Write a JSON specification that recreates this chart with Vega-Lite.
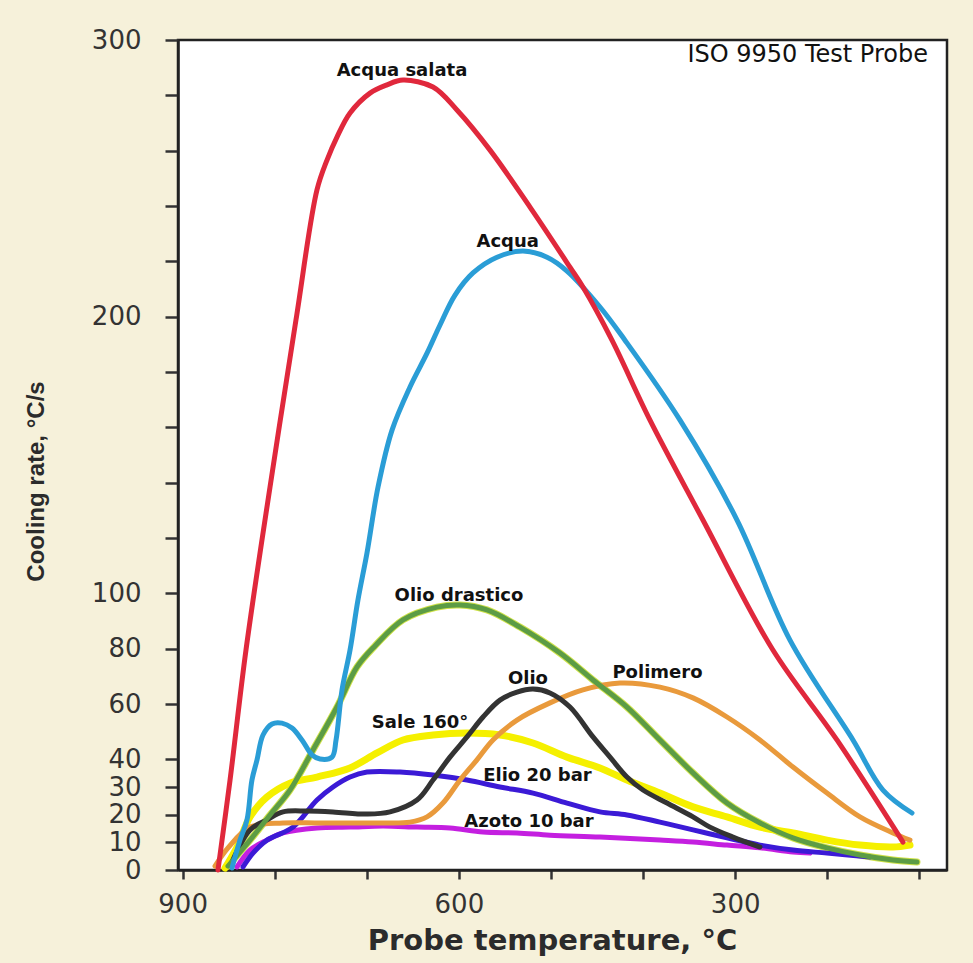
{
  "$schema": "https://vega.github.io/schema/vega-lite/v6.json",
  "width": 769,
  "height": 830,
  "autosize": {"type": "none"},
  "padding": {"left": 178, "top": 40, "right": 26, "bottom": 93},
  "background": "#f6f1da",
  "config": {"view": {"fill": "white", "stroke": "#222222", "strokeWidth": 2.5}},
  "datasets": {
    "curves": [
      {"s": "Azoto 10 bar", "t": 840.9, "v": 1.1}, {"s": "Azoto 10 bar", "t": 826.8, "v": 7.2}, {"s": "Azoto 10 bar", "t": 808.4, "v": 10.8}, {"s": "Azoto 10 bar", "t": 791, "v": 13.4}, {"s": "Azoto 10 bar", "t": 754.1, "v": 15.2}, {"s": "Azoto 10 bar", "t": 718.2, "v": 15.5}, {"s": "Azoto 10 bar", "t": 682.4, "v": 15.9}, {"s": "Azoto 10 bar", "t": 645.5, "v": 15.5}, {"s": "Azoto 10 bar", "t": 609.7, "v": 15.2}, {"s": "Azoto 10 bar", "t": 573.8, "v": 13.7}, {"s": "Azoto 10 bar", "t": 536.9, "v": 13.4}, {"s": "Azoto 10 bar", "t": 501.1, "v": 12.6}, {"s": "Azoto 10 bar", "t": 446.8, "v": 11.9}, {"s": "Azoto 10 bar", "t": 381.7, "v": 10.8}, {"s": "Azoto 10 bar", "t": 345.8, "v": 10.1}, {"s": "Azoto 10 bar", "t": 308.9, "v": 9}, {"s": "Azoto 10 bar", "t": 273.1, "v": 8}, {"s": "Azoto 10 bar", "t": 237.2, "v": 6.5}, {"s": "Azoto 10 bar", "t": 218.8, "v": 6.1},
      {"s": "Elio 20 bar", "t": 834.4, "v": 1.1}, {"s": "Elio 20 bar", "t": 823.6, "v": 6.1}, {"s": "Elio 20 bar", "t": 808.4, "v": 10.8}, {"s": "Elio 20 bar", "t": 780.1, "v": 15.5}, {"s": "Elio 20 bar", "t": 754.1, "v": 25.3}, {"s": "Elio 20 bar", "t": 736.7, "v": 30}, {"s": "Elio 20 bar", "t": 718.2, "v": 33.6}, {"s": "Elio 20 bar", "t": 699.8, "v": 35.4}, {"s": "Elio 20 bar", "t": 663.9, "v": 35.4}, {"s": "Elio 20 bar", "t": 628.1, "v": 34.3}, {"s": "Elio 20 bar", "t": 591.2, "v": 32.5}, {"s": "Elio 20 bar", "t": 555.4, "v": 30}, {"s": "Elio 20 bar", "t": 519.5, "v": 27.8}, {"s": "Elio 20 bar", "t": 482.6, "v": 24.2}, {"s": "Elio 20 bar", "t": 446.8, "v": 21}, {"s": "Elio 20 bar", "t": 417.5, "v": 19.9}, {"s": "Elio 20 bar", "t": 381.7, "v": 17.3}, {"s": "Elio 20 bar", "t": 345.8, "v": 14.5}, {"s": "Elio 20 bar", "t": 308.9, "v": 11.6}, {"s": "Elio 20 bar", "t": 273.1, "v": 9}, {"s": "Elio 20 bar", "t": 237.2, "v": 7.2}, {"s": "Elio 20 bar", "t": 200.3, "v": 6.1}, {"s": "Elio 20 bar", "t": 153.6, "v": 4.7},
      {"s": "Sale 160°", "t": 854, "v": 0.7}, {"s": "Sale 160°", "t": 840.9, "v": 8.3}, {"s": "Sale 160°", "t": 826.8, "v": 19.2}, {"s": "Sale 160°", "t": 808.4, "v": 26.4}, {"s": "Sale 160°", "t": 783.4, "v": 31.4}, {"s": "Sale 160°", "t": 754.1, "v": 33.6}, {"s": "Sale 160°", "t": 718.2, "v": 36.9}, {"s": "Sale 160°", "t": 688.9, "v": 42.3}, {"s": "Sale 160°", "t": 660.7, "v": 47}, {"s": "Sale 160°", "t": 628.1, "v": 48.8}, {"s": "Sale 160°", "t": 591.2, "v": 49.5}, {"s": "Sale 160°", "t": 555.4, "v": 48.8}, {"s": "Sale 160°", "t": 519.5, "v": 45.9}, {"s": "Sale 160°", "t": 482.6, "v": 40.8}, {"s": "Sale 160°", "t": 446.8, "v": 36.9}, {"s": "Sale 160°", "t": 417.5, "v": 32.5}, {"s": "Sale 160°", "t": 381.7, "v": 27.8}, {"s": "Sale 160°", "t": 345.8, "v": 22.8}, {"s": "Sale 160°", "t": 308.9, "v": 19.2}, {"s": "Sale 160°", "t": 273.1, "v": 15.5}, {"s": "Sale 160°", "t": 237.2, "v": 13.4}, {"s": "Sale 160°", "t": 200.3, "v": 10.8}, {"s": "Sale 160°", "t": 164.5, "v": 9}, {"s": "Sale 160°", "t": 128.7, "v": 8.3}, {"s": "Sale 160°", "t": 110.2, "v": 9},
      {"s": "Polimero", "t": 864.8, "v": 1.4}, {"s": "Polimero", "t": 850.7, "v": 8}, {"s": "Polimero", "t": 826.8, "v": 15.5}, {"s": "Polimero", "t": 791, "v": 17}, {"s": "Polimero", "t": 754.1, "v": 17}, {"s": "Polimero", "t": 718.2, "v": 17}, {"s": "Polimero", "t": 682.4, "v": 17}, {"s": "Polimero", "t": 653.1, "v": 17.3}, {"s": "Polimero", "t": 634.6, "v": 19.2}, {"s": "Polimero", "t": 617.3, "v": 24.2}, {"s": "Polimero", "t": 598.8, "v": 32.5}, {"s": "Polimero", "t": 580.4, "v": 39.8}, {"s": "Polimero", "t": 563, "v": 47}, {"s": "Polimero", "t": 536.9, "v": 54.2}, {"s": "Polimero", "t": 501.1, "v": 60.4}, {"s": "Polimero", "t": 465.3, "v": 65.1}, {"s": "Polimero", "t": 425.1, "v": 67.6}, {"s": "Polimero", "t": 381.7, "v": 66.1}, {"s": "Polimero", "t": 345.8, "v": 62.2}, {"s": "Polimero", "t": 308.9, "v": 55.3}, {"s": "Polimero", "t": 273.1, "v": 47}, {"s": "Polimero", "t": 237.2, "v": 37.2}, {"s": "Polimero", "t": 200.3, "v": 27.8}, {"s": "Polimero", "t": 164.5, "v": 19.2}, {"s": "Polimero", "t": 128.7, "v": 13.4}, {"s": "Polimero", "t": 110.2, "v": 10.8},
      {"s": "Olio", "t": 846.4, "v": 2.9}, {"s": "Olio", "t": 826.8, "v": 14.5}, {"s": "Olio", "t": 808.4, "v": 18.1}, {"s": "Olio", "t": 791, "v": 21}, {"s": "Olio", "t": 765, "v": 21.3}, {"s": "Olio", "t": 736.7, "v": 21}, {"s": "Olio", "t": 699.8, "v": 20.2}, {"s": "Olio", "t": 674.8, "v": 21}, {"s": "Olio", "t": 645.5, "v": 25.3}, {"s": "Olio", "t": 628.1, "v": 32.5}, {"s": "Olio", "t": 609.7, "v": 40.8}, {"s": "Olio", "t": 591.2, "v": 48.1}, {"s": "Olio", "t": 573.8, "v": 55.3}, {"s": "Olio", "t": 555.4, "v": 61.4}, {"s": "Olio", "t": 536.9, "v": 64.3}, {"s": "Olio", "t": 519.5, "v": 65.4}, {"s": "Olio", "t": 501.1, "v": 64}, {"s": "Olio", "t": 479.4, "v": 58.9}, {"s": "Olio", "t": 454.4, "v": 48.1}, {"s": "Olio", "t": 435.9, "v": 40.8}, {"s": "Olio", "t": 417.5, "v": 33.6}, {"s": "Olio", "t": 400.1, "v": 28.9}, {"s": "Olio", "t": 374, "v": 24.2}, {"s": "Olio", "t": 345.8, "v": 19.2}, {"s": "Olio", "t": 327.4, "v": 15.5}, {"s": "Olio", "t": 302.4, "v": 11.9}, {"s": "Olio", "t": 273.1, "v": 8.3},
      {"s": "Olio drastico", "t": 850.7, "v": 1.4}, {"s": "Olio drastico", "t": 826.8, "v": 10.8}, {"s": "Olio drastico", "t": 805.1, "v": 19.9}, {"s": "Olio drastico", "t": 783.4, "v": 28.9}, {"s": "Olio drastico", "t": 758.4, "v": 43.4}, {"s": "Olio drastico", "t": 732.4, "v": 58.9}, {"s": "Olio drastico", "t": 710.6, "v": 73.4}, {"s": "Olio drastico", "t": 691.1, "v": 81}, {"s": "Olio drastico", "t": 660.7, "v": 90.4}, {"s": "Olio drastico", "t": 623.8, "v": 95}, {"s": "Olio drastico", "t": 598.8, "v": 95.8}, {"s": "Olio drastico", "t": 569.5, "v": 94}, {"s": "Olio drastico", "t": 533.7, "v": 87.8}, {"s": "Olio drastico", "t": 490.2, "v": 78.4}, {"s": "Olio drastico", "t": 454.4, "v": 68.7}, {"s": "Olio drastico", "t": 417.5, "v": 58.9}, {"s": "Olio drastico", "t": 381.7, "v": 47}, {"s": "Olio drastico", "t": 345.8, "v": 35.1}, {"s": "Olio drastico", "t": 308.9, "v": 24.2}, {"s": "Olio drastico", "t": 273.1, "v": 17}, {"s": "Olio drastico", "t": 237.2, "v": 11.6}, {"s": "Olio drastico", "t": 200.3, "v": 8}, {"s": "Olio drastico", "t": 164.5, "v": 5.4}, {"s": "Olio drastico", "t": 128.7, "v": 3.6}, {"s": "Olio drastico", "t": 102.6, "v": 2.9},
      {"s": "Acqua", "t": 846.4, "v": 0.7}, {"s": "Acqua", "t": 837.7, "v": 10.8}, {"s": "Acqua", "t": 830.1, "v": 18.1}, {"s": "Acqua", "t": 824.7, "v": 32.5}, {"s": "Acqua", "t": 819.2, "v": 39.8}, {"s": "Acqua", "t": 812.7, "v": 48.8}, {"s": "Acqua", "t": 802.9, "v": 52.8}, {"s": "Acqua", "t": 792.1, "v": 53.1}, {"s": "Acqua", "t": 781.2, "v": 51.3}, {"s": "Acqua", "t": 770.4, "v": 47}, {"s": "Acqua", "t": 759.5, "v": 41.6}, {"s": "Acqua", "t": 750.8, "v": 40.1}, {"s": "Acqua", "t": 737.8, "v": 40.8}, {"s": "Acqua", "t": 733.4, "v": 47}, {"s": "Acqua", "t": 726.9, "v": 65.1}, {"s": "Acqua", "t": 718.2, "v": 79.5}, {"s": "Acqua", "t": 709.6, "v": 97.6}, {"s": "Acqua", "t": 699.8, "v": 114.6}, {"s": "Acqua", "t": 687.8, "v": 138.4}, {"s": "Acqua", "t": 672.6, "v": 159}, {"s": "Acqua", "t": 653.1, "v": 174.6}, {"s": "Acqua", "t": 634.6, "v": 186.8}, {"s": "Acqua", "t": 620.5, "v": 197}, {"s": "Acqua", "t": 604.2, "v": 207.8}, {"s": "Acqua", "t": 584.7, "v": 215.8}, {"s": "Acqua", "t": 558.6, "v": 221.5}, {"s": "Acqua", "t": 530.4, "v": 223.7}, {"s": "Acqua", "t": 504.3, "v": 221.5}, {"s": "Acqua", "t": 482.6, "v": 216.5}, {"s": "Acqua", "t": 446.8, "v": 203.5}, {"s": "Acqua", "t": 419.7, "v": 191.5}, {"s": "Acqua", "t": 359.9, "v": 162.6}, {"s": "Acqua", "t": 298, "v": 126.5}, {"s": "Acqua", "t": 240.5, "v": 83.1}, {"s": "Acqua", "t": 172.1, "v": 47}, {"s": "Acqua", "t": 139.5, "v": 28.9}, {"s": "Acqua", "t": 108, "v": 20.6},
      {"s": "Acqua salata", "t": 861.6, "v": 0}, {"s": "Acqua salata", "t": 848.5, "v": 32.5}, {"s": "Acqua salata", "t": 831.2, "v": 79.5}, {"s": "Acqua salata", "t": 805.1, "v": 138.4}, {"s": "Acqua salata", "t": 776.9, "v": 198.8}, {"s": "Acqua salata", "t": 754.1, "v": 245.8}, {"s": "Acqua salata", "t": 743.2, "v": 256.6}, {"s": "Acqua salata", "t": 732.4, "v": 264.9}, {"s": "Acqua salata", "t": 718.2, "v": 273.6}, {"s": "Acqua salata", "t": 696.5, "v": 280.8}, {"s": "Acqua salata", "t": 678.1, "v": 283.8}, {"s": "Acqua salata", "t": 660.7, "v": 285.5}, {"s": "Acqua salata", "t": 628.1, "v": 283}, {"s": "Acqua salata", "t": 602.1, "v": 274.7}, {"s": "Acqua salata", "t": 566.2, "v": 260.2}, {"s": "Acqua salata", "t": 522.8, "v": 239.6}, {"s": "Acqua salata", "t": 479.4, "v": 217.9}, {"s": "Acqua salata", "t": 465.3, "v": 210.7}, {"s": "Acqua salata", "t": 433.8, "v": 191.5}, {"s": "Acqua salata", "t": 392.5, "v": 162.6}, {"s": "Acqua salata", "t": 335, "v": 126.5}, {"s": "Acqua salata", "t": 259, "v": 79.5}, {"s": "Acqua salata", "t": 189.5, "v": 47}, {"s": "Acqua salata", "t": 117.8, "v": 10.1}
    ],
    "labels": [
      {"label": "Acqua salata", "t": 661.8, "v": 288.8},
      {"label": "Acqua", "t": 547, "v": 227},
      {"label": "Olio drastico", "t": 599.9, "v": 99},
      {"label": "Olio", "t": 525, "v": 69},
      {"label": "Polimero", "t": 384.4, "v": 71.2},
      {"label": "Sale 160°", "t": 642.2, "v": 53.1},
      {"label": "Elio 20 bar", "t": 514.7, "v": 34},
      {"label": "Azoto 10 bar", "t": 523.9, "v": 17.5}
    ],
    "note": [{"label": "ISO 9950 Test Probe", "t": 90.7, "v": 294.7}]
  },
  "encoding": {
    "x": {
      "field": "t", "type": "quantitative",
      "scale": {"domain": [70, 905], "reverse": true, "nice": false, "zero": false},
      "axis": {
        "values": [900, 800, 700, 600, 500, 400, 300, 200, 100],
        "labelExpr": "datum.value == 900 || datum.value == 600 || datum.value == 300 ? datum.label : ''",
        "grid": false, "tickSize": 9, "tickWidth": 2.5, "tickColor": "#333333",
        "domainColor": "#222222", "domainWidth": 2.5,
        "labelFont": "DejaVu Sans", "labelFontSize": 26, "labelColor": "#333333", "labelPadding": 12,
        "labelFlush": false, "labelOverlap": false, "labelBound": false,
        "title": "Probe temperature, °C", "titleFont": "DejaVu Sans", "titleFontWeight": "bold",
        "titleFontSize": 29, "titleColor": "#2b2b2b", "titleX": 374, "titleY": 79,
        "titleBaseline": "alphabetic", "titleAlign": "center"
      }
    },
    "y": {
      "field": "v", "type": "quantitative",
      "scale": {"domain": [0, 300], "nice": false, "zero": true},
      "axis": {
        "values": [0, 10, 20, 30, 40, 60, 80, 100, 120, 140, 160, 180, 200, 220, 240, 260, 280, 300],
        "labelExpr": "indexof([0, 10, 20, 30, 40, 60, 80, 100, 200, 300], datum.value) >= 0 ? datum.label : ''",
        "grid": false, "tickSize": 13, "tickWidth": 2.5, "tickColor": "#333333",
        "domainColor": "#222222", "domainWidth": 2.5,
        "labelFont": "DejaVu Sans", "labelFontSize": 26, "labelColor": "#333333", "labelPadding": 24,
        "labelOverlap": false, "labelBound": false, "labelFlush": false,
        "title": "Cooling rate, °C/s", "titleFont": "Liberation Sans",
        "titleFontWeight": "bold", "titleFontSize": 24, "titleColor": "#2b2b2b",
        "titleX": -135, "titleY": 441, "titleBaseline": "alphabetic", "titleAlign": "center", "titleAngle": 270
      }
    }
  },
  "layer": [
    {
      "data": {"name": "curves"},
      "transform": [{"filter": "datum.s == 'Olio drastico'"}],
      "mark": {"type": "line", "interpolate": "catmull-rom", "strokeWidth": 7, "color": "#cfe24a", "strokeCap": "round"}
    },
    {
      "data": {"name": "curves"},
      "transform": [{"filter": "datum.s == 'Sale 160°'"}],
      "mark": {"type": "line", "interpolate": "catmull-rom", "strokeWidth": 7, "color": "#f5f000", "strokeCap": "round"}
    },
    {
      "data": {"name": "curves"},
      "mark": {"type": "line", "interpolate": "catmull-rom", "strokeWidth": 5, "strokeCap": "round"},
      "encoding": {
        "color": {
          "field": "s", "type": "nominal",
          "scale": {
            "domain": ["Azoto 10 bar", "Elio 20 bar", "Sale 160°", "Polimero", "Olio", "Olio drastico", "Acqua", "Acqua salata"],
            "range": ["#c41fe0", "#3b1ad6", "#f5f000", "#e99a3c", "#333333", "#5c9c45", "#2a9dd6", "#e0283c"]
          },
          "legend": null
        }
      }
    },
    {
      "data": {"name": "labels"},
      "mark": {"type": "text", "font": "DejaVu Sans", "fontWeight": "bold", "fontSize": 18, "color": "#111111", "align": "center", "baseline": "middle"},
      "encoding": {"text": {"field": "label"}}
    },
    {
      "data": {"name": "note"},
      "mark": {"type": "text", "font": "DejaVu Sans", "fontSize": 24, "color": "#111111", "align": "right", "baseline": "middle"},
      "encoding": {"text": {"field": "label"}}
    }
  ]
}
